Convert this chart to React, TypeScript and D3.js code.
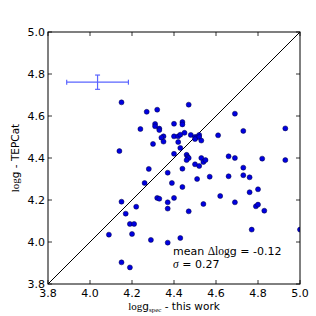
import React from 'react';
import * as d3 from 'd3';

// logg from this work (x) vs TEPCat (y)
const specLogg = [
  4.15, 4.27, 4.32, 4.24, 4.31, 4.31, 4.33, 4.33, 4.35, 4.34, 4.35, 4.30, 4.14, 4.28, 4.37, 4.26, 4.39,
  4.15, 4.22, 4.32, 4.33, 4.37, 4.40, 4.37, 4.17, 4.19, 4.21, 4.09, 4.20, 4.29, 4.37, 4.15, 4.19,
  4.40, 4.44, 4.44, 4.40, 4.42, 4.43, 4.45, 4.42, 4.43, 4.40, 4.46, 4.465, 4.47, 4.46, 4.44, 4.44, 4.43,
  4.47, 4.48, 4.50, 4.51, 4.52, 4.52, 4.50, 4.53, 4.61, 4.69, 4.73, 4.50, 4.52, 4.53, 4.54, 4.55,
  4.66, 4.69, 4.73, 4.51, 4.57, 4.66, 4.73, 4.76, 4.62, 4.69, 4.54, 4.47, 4.76, 4.80, 4.79, 4.80,
  4.83, 4.77, 5.00, 4.93, 4.82, 4.93,
];
const tepcatLogg = [
  4.665, 4.62, 4.63, 4.538, 4.562, 4.551, 4.54, 4.533, 4.503, 4.497, 4.478, 4.467, 4.433, 4.348, 4.33, 4.281, 4.281,
  4.192, 4.168, 4.21, 4.206, 4.189, 4.21, 4.159, 4.135, 4.086, 4.086, 4.035, 4.038, 4.01, 3.997, 3.903, 3.879,
  4.563, 4.571, 4.56, 4.503, 4.503, 4.511, 4.52, 4.476, 4.448, 4.42, 4.415, 4.405, 4.40, 4.39, 4.349, 4.262, 4.019,
  4.654, 4.51, 4.50, 4.50, 4.51, 4.50, 4.49, 4.483, 4.508, 4.611, 4.529, 4.37, 4.362, 4.40, 4.381, 4.39,
  4.408, 4.40, 4.354, 4.30, 4.311, 4.313, 4.318, 4.308, 4.219, 4.189, 4.181, 4.146, 4.237, 4.251, 4.17, 4.178,
  4.149, 4.059, 4.059, 4.541, 4.397, 4.39,
];
// typical error bar shown top-left
const errCenter = [4.036, 4.761];
const errSize = [0.147, 0.034];

const ticks = [3.8, 4.0, 4.2, 4.4, 4.6, 4.8, 5.0];
const domain = [3.8, 5.0];

const W = 316, H = 316;
const m = { left: 48, right: 16, top: 32, bottom: 32 };

const sans = 'DejaVu Sans, sans-serif';
const serif = 'Liberation Serif, DejaVu Serif, serif';

const App: React.FC = () => {
  const x = d3.scaleLinear().domain(domain).range([m.left, W - m.right]);
  const y = d3.scaleLinear().domain(domain).range([H - m.bottom, m.top]);
  const x0 = x.range()[0], x1 = x.range()[1];
  const y0 = y.range()[0], y1 = y.range()[1];
  const tl = 4;
  const ebColor = '#5a64ff';
  const [ex, ey] = errCenter;

  return (
    <svg width={W} height={H} style={{ position: 'absolute', left: 0, top: 0, background: '#fff' }}>
      {/* one to one line */}
      <line x1={x(3.8)} y1={y(3.8)} x2={x(5.0)} y2={y(5.0)} stroke="#000" strokeWidth={1} />

      {/* error bar */}
      <g stroke={ebColor} strokeWidth={1.2}>
        <line x1={x(ex - errSize[0])} x2={x(ex + errSize[0])} y1={y(ey)} y2={y(ey)} />
        <line x1={x(ex)} x2={x(ex)} y1={y(ey - errSize[1])} y2={y(ey + errSize[1])} />
        <line x1={x(ex - errSize[0])} x2={x(ex - errSize[0])} y1={y(ey) - 2.5} y2={y(ey) + 2.5} />
        <line x1={x(ex + errSize[0])} x2={x(ex + errSize[0])} y1={y(ey) - 2.5} y2={y(ey) + 2.5} />
        <line x1={x(ex) - 2.5} x2={x(ex) + 2.5} y1={y(ey - errSize[1])} y2={y(ey - errSize[1])} />
        <line x1={x(ex) - 2.5} x2={x(ex) + 2.5} y1={y(ey + errSize[1])} y2={y(ey + errSize[1])} />
      </g>

      <clipPath id="plotclip">
        <rect x={x0} y={y1} width={x1 - x0} height={y0 - y1} />
      </clipPath>
      <g clipPath="url(#plotclip)">
        {specLogg.map((v, i) => (
          <circle key={i} cx={x(v)} cy={y(tepcatLogg[i])} r={2.5} fill="#0000e0" stroke="#000040" strokeWidth={0.5} />
        ))}
      </g>

      {/* frame */}
      <rect x={x0} y={y1} width={x1 - x0} height={y0 - y1} fill="none" stroke="#000" strokeWidth={1} />

      {/* ticks, inward on all sides */}
      <g stroke="#000" strokeWidth={0.8}>
        {ticks.map((t) => (
          <g key={'t' + t}>
            <line x1={x(t)} x2={x(t)} y1={y0} y2={y0 - tl} />
            <line x1={x(t)} x2={x(t)} y1={y1} y2={y1 + tl} />
            <line x1={x0} x2={x0 + tl} y1={y(t)} y2={y(t)} />
            <line x1={x1} x2={x1 - tl} y1={y(t)} y2={y(t)} />
          </g>
        ))}
      </g>

      <g fontFamily={sans} fontSize={11} fill="#000">
        {ticks.map((t) => (
          <text key={'xl' + t} x={x(t)} y={y0 + 13} textAnchor="middle">{t.toFixed(1)}</text>
        ))}
        {ticks.map((t) => (
          <text key={'yl' + t} x={x0 - 3} y={y(t) + 4} textAnchor="end">{t.toFixed(1)}</text>
        ))}
      </g>

      {/* axis labels */}
      <text x={(x0 + x1) / 2} y={310} textAnchor="middle" fontFamily={sans} fontSize={10.5}>
        <tspan fontFamily={serif} fontSize={11}>log</tspan>
        <tspan>g</tspan>
        <tspan fontFamily={serif} fontSize={7} dy={2}>spec</tspan>
        <tspan dy={-2}> - this work</tspan>
      </text>
      <text transform={`translate(19,${(y0 + y1) / 2}) rotate(-90)`} textAnchor="middle" fontFamily={sans} fontSize={10.5}>
        <tspan fontFamily={serif} fontSize={11}>log</tspan>
        <tspan>g - TEPCat</tspan>
      </text>

      {/* stats annotation */}
      <text x={x(4.4) - 1} y={255} fontFamily={sans} fontSize={11}>
        mean <tspan fontFamily={serif} fontSize={11.5}>Δlog</tspan>g = -0.12
      </text>
      <text x={x(4.4) - 1} y={268} fontFamily={sans} fontSize={11}>
        <tspan fontFamily={serif} fontStyle="italic" fontSize={11.5}>σ</tspan> = 0.27
      </text>
    </svg>
  );
};

export default App;
